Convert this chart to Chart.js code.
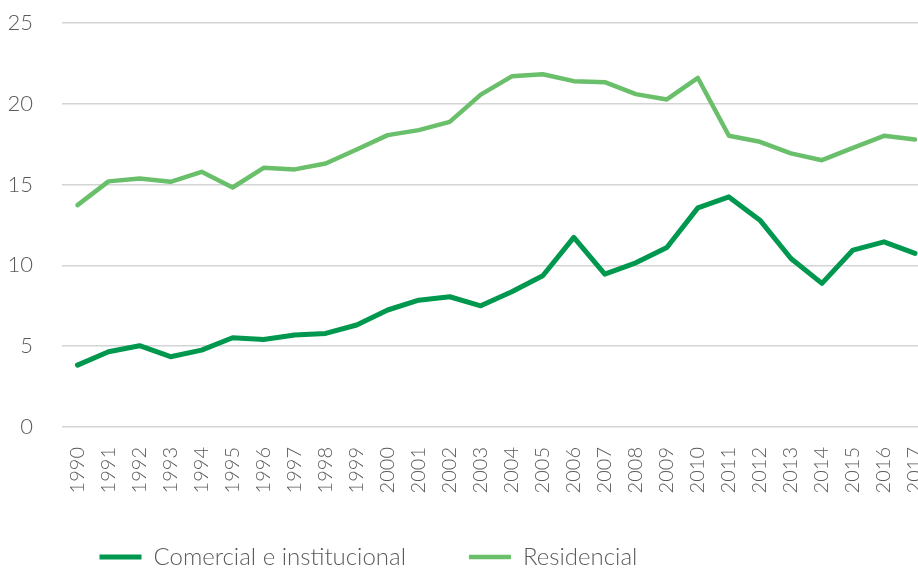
<!DOCTYPE html>
<html>
<head>
<meta charset="utf-8">
<script src="https://cdn.jsdelivr.net/npm/chart.js@4"></script>
<style>
  html, body { margin: 0; padding: 0; background: #fff; overflow: hidden; }
  #wrap { width: 939px; height: 571px; }
</style>
</head>
<body>
<div id="wrap"><canvas id="mainChart"></canvas></div>
<script>
const years = ["1990","1991","1992","1993","1994","1995","1996","1997","1998","1999",
  "2000","2001","2002","2003","2004","2005","2006","2007","2008","2009",
  "2010","2011","2012","2013","2014","2015","2016","2017"];

const comercial = [3.83, 4.66, 5.03, 4.35, 4.76, 5.52, 5.42, 5.69, 5.79, 6.31,
  7.24, 7.85, 8.06, 7.5, 8.37, 9.36, 11.73, 9.46, 10.16, 11.11,
  13.56, 14.24, 12.8, 10.43, 8.89, 10.95, 11.46, 10.74];

const residencial = [13.73, 15.2, 15.38, 15.17, 15.79, 14.82, 16.04, 15.94, 16.31, 17.17,
  18.06, 18.37, 18.88, 20.57, 21.7, 21.83, 21.4, 21.34, 20.6, 20.27,
  21.6, 18.02, 17.65, 16.93, 16.51, 17.27, 18.02, 17.79];

const fontFamily = "Lato, 'Open Sans', sans-serif";
const textColor = "#5a5a5a";
const noTick = "rgba(0,0,0,0)";

// legenda fica à esquerda no original, não centralizada
const legendShift = {
    id: "legendShift",
    afterLayout(chart) {
        chart.legend.left += 36.5;
        chart.legend.top -= 20;
    }
};

new Chart(document.getElementById("mainChart"), {
    type: "line",
    data: {
        labels: years,
        datasets: [
            {
                label: "Comercial e institucional",
                data: comercial,
                borderColor: "#00984f",
                backgroundColor: "#00984f",
                borderWidth: 5,
                borderCapStyle: "round",
                borderJoinStyle: "round",
                pointRadius: 0,
                pointStyle: "line",
                tension: 0
            },
            {
                label: "Residencial",
                data: residencial,
                borderColor: "#6abf6a",
                backgroundColor: "#6abf6a",
                borderWidth: 4.5,
                borderCapStyle: "round",
                borderJoinStyle: "round",
                pointRadius: 0,
                pointStyle: "line",
                tension: 0
            }
        ]
    },
    options: {
        responsive: true,
        maintainAspectRatio: false,
        animation: false,
        layout: { padding: { top: 23, left: 0, right: 0, bottom: 0 } },
        scales: {
            x: {
                offset: true,
                grid: { display: true, drawOnChartArea: false, drawTicks: true, tickLength: 20, tickColor: noTick },
                border: { display: false },
                ticks: {
                    minRotation: 90,
                    maxRotation: 90,
                    padding: 0,
                    color: textColor,
                    font: { family: fontFamily, size: 20, weight: 300 }
                },
                afterFit: s => { s.height = 75; }
            },
            y: {
                min: 0,
                max: 25,
                ticks: {
                    stepSize: 5,
                    padding: 0,
                    color: textColor,
                    font: { family: fontFamily, size: 22, weight: 300 }
                },
                grid: { color: "#d4d4d4", lineWidth: 1.5, drawTicks: true, tickLength: 29, tickColor: noTick },
                border: { display: false },
                afterFit: s => { s.width = 62; }
            }
        },
        plugins: {
            legend: {
                position: "bottom",
                align: "start",
                maxHeight: 69,
                labels: {
                    usePointStyle: true,
                    pointStyleWidth: 42,
                    boxHeight: 5,
                    padding: 63,
                    color: textColor,
                    font: { family: fontFamily, size: 24, weight: 300 }
                }
            },
            tooltip: { enabled: false }
        }
    },
    plugins: [legendShift]
});
</script>
</body>
</html>
